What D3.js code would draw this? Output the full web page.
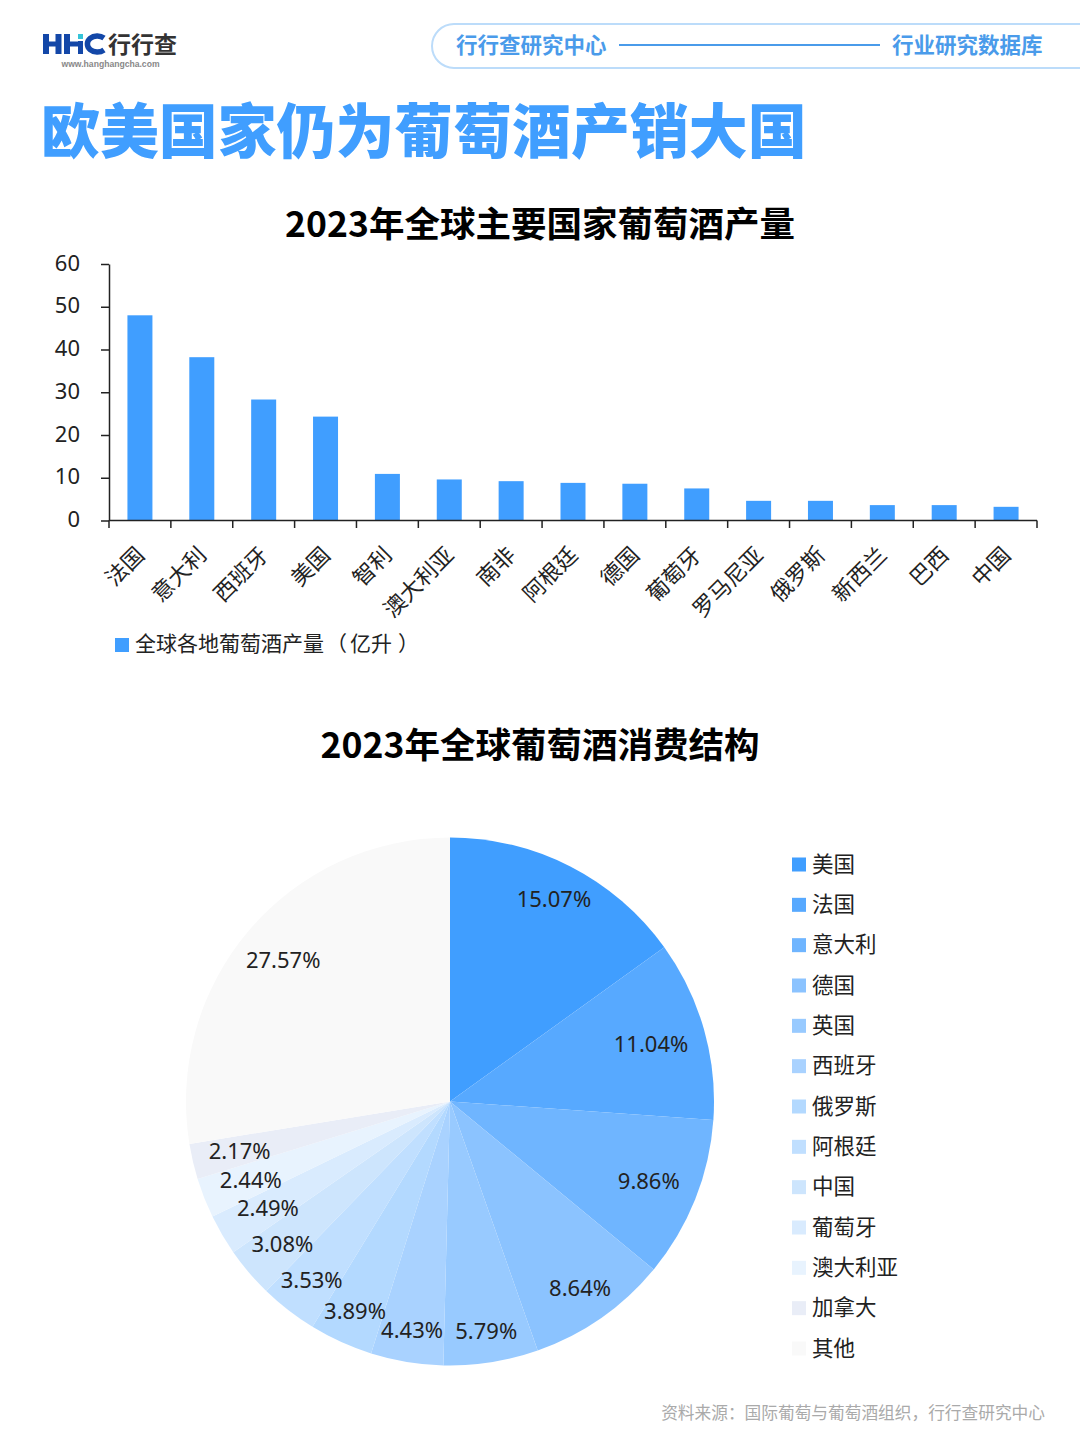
<!DOCTYPE html>
<html>
<head>
<meta charset="utf-8">
<title>欧美国家仍为葡萄酒产销大国</title>
<script src="https://cdn.jsdelivr.net/npm/d3@7"></script>
<style>
html, body { margin: 0; padding: 0; background: #fff; }
svg { display: block; }
text { font-family: "Noto Sans CJK SC", "Noto Sans", sans-serif; }
.num { font-family: "Noto Sans", sans-serif; }
</style>
</head>
<body>
<svg id="chart" width="1080" height="1440"></svg>
<script>
// bar chart
var barCountries = ['法国', '意大利', '西班牙', '美国', '智利', '澳大利亚', '南非', '阿根廷', '德国', '葡萄牙', '罗马尼亚', '俄罗斯', '新西兰', '巴西', '中国'];
var barValues = [48, 38.2, 28.3, 24.3, 10.9, 9.6, 9.2, 8.8, 8.6, 7.5, 4.6, 4.6, 3.6, 3.6, 3.2];
var yTicks = [0, 10, 20, 30, 40, 50, 60];

// pie chart
var pieCountries = ['美国', '法国', '意大利', '德国', '英国', '西班牙', '俄罗斯', '阿根廷', '中国', '葡萄牙', '澳大利亚', '加拿大', '其他'];
var pieValues = [15.07, 11.04, 9.86, 8.64, 5.79, 4.43, 3.89, 3.53, 3.08, 2.49, 2.44, 2.17, 27.57];
var pieColors = ['#409eff', '#57a9ff', '#6fb5ff', '#8bc3ff', '#98caff', '#a9d2ff', '#b3d9ff', '#c0dfff', '#cde5fd', '#d9ebfe', '#e8f3fe', '#e9edf7', '#f9f9f9'];
// label distance from centre, set by hand like the original
var labelRadius = [228, 209, 214, 227, 232, 232, 230, 226, 220, 211, 214, 216, 219];

var svg = d3.select('#chart');
var blue = '#409eff';

// logo, drawn since no font has these letters
svg.append('path').attr('fill', '#1347a8')
  .attr('d', 'M43,34h6v7.5h6.5V34h6v20h-6v-7.5H49V54h-6Z M64,34h6v7.5h8V41h5v13h-5v-7.5h-8V54h-6Z');
svg.append('path').attr('fill', 'none').attr('stroke', '#1347a8').attr('stroke-width', 5.5)
  .attr('d', 'M104,38 A10,8 0 1 0 104,50');
svg.append('rect').attr('x', 78).attr('y', 34).attr('width', 5).attr('height', 5).attr('fill', '#35c4d8');
svg.append('text').attr('x', 108).attr('y', 52.5).attr('font-size', 23).attr('font-weight', 700)
  .attr('fill', '#333').text('行行查');
svg.append('text').attr('x', 61.5).attr('y', 66.5).attr('font-size', 8.6).attr('font-weight', 700)
  .attr('fill', '#888').style('font-family', '"Liberation Sans", sans-serif').text('www.hanghangcha.com');

// header pill
svg.append('path').attr('d', 'M1082,24 H454 A22,22 0 0 0 454,68 H1082')
  .attr('fill', 'none').attr('stroke', '#bcdcfa').attr('stroke-width', 2);
svg.append('text').attr('x', 456).attr('y', 52.5).attr('font-size', 21.5).attr('font-weight', 700)
  .attr('fill', '#4a9bea').text('行行查研究中心');
svg.append('line').attr('x1', 619).attr('x2', 880).attr('y1', 45).attr('y2', 45)
  .attr('stroke', '#4a9bea').attr('stroke-width', 2);
svg.append('text').attr('x', 892).attr('y', 52.5).attr('font-size', 21.5).attr('font-weight', 700)
  .attr('fill', '#4a9bea').text('行业研究数据库');

svg.append('text').attr('x', 41).attr('y', 153).attr('font-size', 58.9).attr('font-weight', 900)
  .attr('fill', blue).text('欧美国家仍为葡萄酒产销大国');

svg.append('text').attr('x', 540).attr('y', 237).attr('text-anchor', 'middle').attr('font-size', 35.5)
  .attr('font-weight', 700).attr('fill', '#000').text('2023年全球主要国家葡萄酒产量');
svg.append('text').attr('x', 540).attr('y', 758).attr('text-anchor', 'middle').attr('font-size', 35.5)
  .attr('font-weight', 700).attr('fill', '#000').text('2023年全球葡萄酒消费结构');

// bars
var x = d3.scaleBand().domain(barCountries).range([109, 1037]);
var y = d3.scaleLinear().domain([0, 60]).range([520.5, 264]);

svg.append('g').selectAll('rect').data(barValues).enter().append('rect')
  .attr('x', function(d, i) { return x(barCountries[i]) + (x.bandwidth() - 25) / 2; })
  .attr('y', function(d) { return y(d); })
  .attr('width', 25)
  .attr('height', function(d) { return y(0) - y(d); })
  .attr('fill', blue);

var yAxis = svg.append('g').attr('transform', 'translate(109,0)')
  .call(d3.axisLeft(y).tickValues(yTicks).tickSize(8).tickSizeOuter(0).tickPadding(21));
yAxis.selectAll('text').attr('class', 'num').attr('font-size', 22).attr('fill', '#222').attr('dy', '0.28em');
yAxis.selectAll('line, path').attr('stroke', '#222').attr('stroke-width', 1.5);

var xAxis = svg.append('g').attr('transform', 'translate(0,520.5)')
  .call(d3.axisBottom(x).tickSize(0).tickPadding(0));
xAxis.select('path').attr('stroke', '#222').attr('stroke-width', 1.5).attr('d', 'M109,0H1037');
xAxis.selectAll('.tick line').remove();
xAxis.selectAll('text')
  .attr('font-size', 22).attr('fill', '#222').attr('text-anchor', 'end')
  .attr('x', 0).attr('y', 0).attr('dy', 0)
  .attr('transform', 'translate(1,31) rotate(-45) translate(0,7)');

// x ticks sit on the band edges, not the centres
svg.append('g').selectAll('line').data(barCountries.concat([null])).enter().append('line')
  .attr('x1', function(d, i) { return 109 + i * x.step(); })
  .attr('x2', function(d, i) { return 109 + i * x.step(); })
  .attr('y1', 520.5).attr('y2', 528)
  .attr('stroke', '#222').attr('stroke-width', 1.5);

svg.append('rect').attr('x', 115).attr('y', 638).attr('width', 14).attr('height', 14).attr('fill', blue);
// brackets get trimmed by the browser, so push them out by hand
var barLegend = svg.append('text').attr('x', 135).attr('y', 651).attr('font-size', 21).attr('fill', '#222');
barLegend.append('tspan').text('全球各地葡萄酒产量');
barLegend.append('tspan').attr('dx', 2).text('（');
barLegend.append('tspan').attr('dx', 3).text('亿升');
barLegend.append('tspan').attr('dx', 6).text('）');

// pie
var pie = d3.pie().sort(null)(pieValues);
var arc = d3.arc().innerRadius(0).outerRadius(264);
var gPie = svg.append('g').attr('transform', 'translate(450,1101.5)');

gPie.selectAll('path').data(pie).enter().append('path')
  .attr('d', arc)
  .attr('fill', function(d, i) { return pieColors[i]; });

gPie.selectAll('text').data(pie).enter().append('text')
  .attr('class', 'num')
  .attr('transform', function(d, i) {
    var c = d3.arc().innerRadius(labelRadius[i]).outerRadius(labelRadius[i]).centroid(d);
    return 'translate(' + c + ')';
  })
  .attr('text-anchor', 'middle').attr('dy', 8).attr('font-size', 22).attr('fill', '#222')
  .text(function(d) { return d.value.toFixed(2) + '%'; });

// pie legend
var legendY = d3.scalePoint().domain(pieCountries).range([864, 1348]);
var legend = svg.append('g').selectAll('g').data(pieCountries).enter().append('g')
  .attr('transform', function(d) { return 'translate(792,' + legendY(d) + ')'; });
legend.append('rect').attr('x', 0).attr('y', -6.5).attr('width', 14).attr('height', 14)
  .attr('fill', function(d, i) { return pieColors[i]; });
legend.append('text').attr('x', 20).attr('y', 7.5).attr('font-size', 21.5).attr('fill', '#222')
  .text(function(d) { return d; });

svg.append('text').attr('x', 1045).attr('y', 1419).attr('text-anchor', 'end').attr('font-size', 16.7)
  .attr('fill', '#aaa').text('资料来源：国际葡萄与葡萄酒组织，行行查研究中心');
</script>
</body>
</html>
